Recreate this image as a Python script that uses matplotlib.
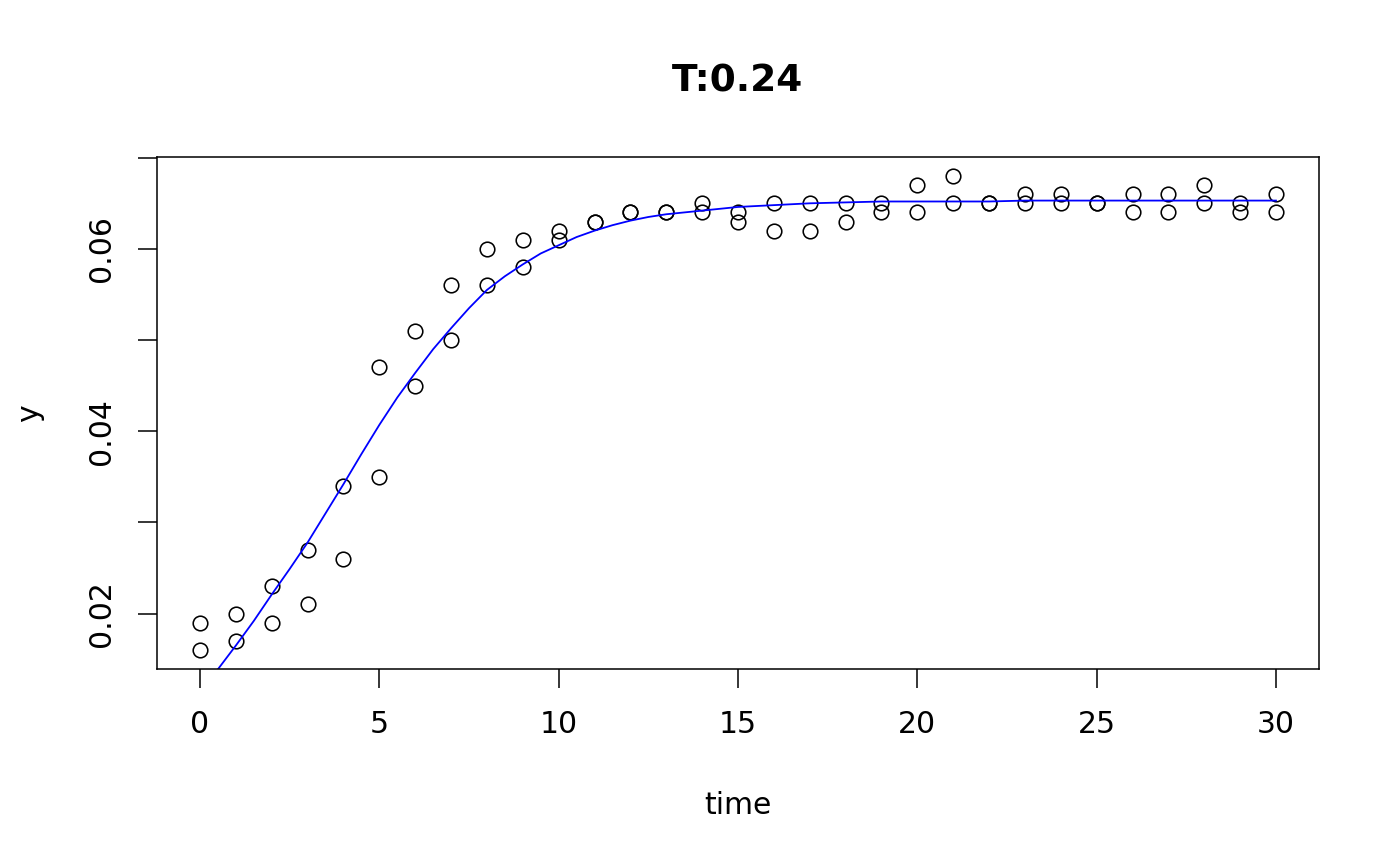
import matplotlib
matplotlib.use('Agg')
import matplotlib.pyplot as plt

# growth data: two replicate readings per time point
time = list(range(0, 31))
rep1 = [0.019, 0.020, 0.023, 0.027, 0.034, 0.047, 0.051, 0.056, 0.060, 0.061,
        0.062, 0.063, 0.064, 0.064, 0.065, 0.064, 0.065, 0.065, 0.065, 0.065,
        0.067, 0.068, 0.065, 0.066, 0.066, 0.065, 0.066, 0.066, 0.067, 0.065,
        0.066]
rep2 = [0.016, 0.017, 0.019, 0.021, 0.026, 0.035, 0.045, 0.050, 0.056, 0.058,
        0.061, 0.063, 0.064, 0.064, 0.064, 0.063, 0.062, 0.062, 0.063, 0.064,
        0.064, 0.065, 0.065, 0.065, 0.065, 0.065, 0.064, 0.064, 0.065, 0.064,
        0.064]
# fitted curve (half steps where it bends)
fit_time = [0, 0.5, 1, 1.5, 2, 2.5, 3, 3.5, 4, 4.5, 5, 5.5, 6, 6.5, 7, 7.5,
            8, 8.5, 9, 9.5, 10, 10.5, 11, 11.5, 12, 12.5, 13, 13.5, 14, 14.5,
            15, 16, 17, 18, 19, 20, 21, 22, 23, 24, 25, 26, 27, 28, 29, 30]
fitted = [0.0116, 0.0139, 0.0165, 0.0192, 0.0221, 0.0249, 0.0278, 0.0310,
          0.0342, 0.0375, 0.0407, 0.0437, 0.0464, 0.0490, 0.0513, 0.0535,
          0.0555, 0.0570, 0.0583, 0.0595, 0.0604, 0.0613, 0.0620, 0.0626,
          0.0631, 0.0635, 0.0638, 0.0640, 0.0642, 0.0644,
          0.0646, 0.0648, 0.0650, 0.0651, 0.0652, 0.0652, 0.0652, 0.0652,
          0.0653, 0.0653, 0.0653, 0.0653, 0.0653, 0.0653, 0.0653, 0.0653]

xticks = [0, 5, 10, 15, 20, 25, 30]
yticks = [0.02, 0.03, 0.04, 0.05, 0.06, 0.07]
ytick_labels = ['0.02', '', '0.04', '', '0.06', '']

plt.rcParams['font.family'] = ['DejaVu Sans']

fig = plt.figure(figsize=(14, 8.66), dpi=100)
ax = fig.add_axes([157/1400, 1 - 669/866, (1319 - 157)/1400, (669 - 157)/866])

# points over time
ax.plot(time, rep1, 'o', mfc='none', mec='black', ms=10.5, mew=1.15, ls='none')
ax.plot(time, rep2, 'o', mfc='none', mec='black', ms=10.5, mew=1.15, ls='none')
ax.plot(fit_time, fitted, color='#0000ff', lw=1.3)

ax.set_xlim(-1.2, 31.2)
ax.set_ylim(0.01392, 0.07008)
ax.set_xticks(xticks)
ax.set_xticklabels([str(v) for v in xticks])
ax.set_yticks(yticks)
ax.set_yticklabels(ytick_labels, rotation=90, va='center')

for s in ax.spines.values():
    s.set_linewidth(1.1)
ax.tick_params(length=13.5, width=1.1, labelsize=21.5, pad=16)

fig.text(0.527, 1 - 82/866, 'T:0.24', ha='center', va='center',
         fontsize=27, fontweight='bold')
fig.text(0.527, 1 - 805/866, 'time', ha='center', va='center', fontsize=21.5)
fig.text(30/1400, 1 - 413/866, 'y', ha='center', va='center', fontsize=21.5,
         rotation=90)

fig.savefig('out.png', dpi=100)
